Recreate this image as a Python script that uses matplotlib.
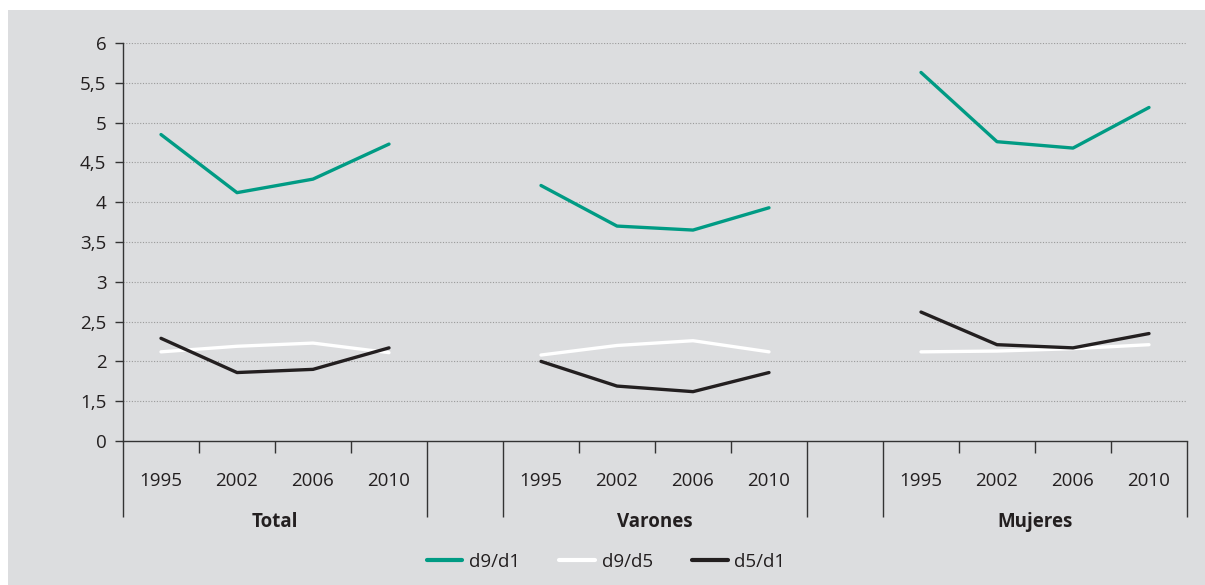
import matplotlib
matplotlib.use("Agg")
import matplotlib.pyplot as plt
from matplotlib.patches import Rectangle
from matplotlib.ticker import FixedLocator

plt.rcParams['font.family'] = ['Open Sans', 'DejaVu Sans']

# datos
grupos = ['Total', 'Varones', 'Mujeres']
anios = ['1995', '2002', '2006', '2010']
d9_d1 = [[4.85, 4.12, 4.29, 4.73], [4.21, 3.70, 3.65, 3.93], [5.63, 4.76, 4.68, 5.19]]
d9_d5 = [[2.12, 2.19, 2.23, 2.11], [2.08, 2.20, 2.26, 2.12], [2.12, 2.13, 2.16, 2.21]]
d5_d1 = [[2.29, 1.86, 1.90, 2.17], [2.00, 1.69, 1.62, 1.86], [2.62, 2.21, 2.17, 2.35]]
ytick_vals = [1.0, 1.5, 2, 2.5, 3, 3.5, 4, 4.5, 5, 5.5, 6]
ytick_labels = ['0', '1,5', '2', '2,5', '3', '3,5', '4', '4,5', '5', '5,5', '6']

verde = '#009b84'
negro = '#231f20'
fondo = '#dcdddf'
fs = 13.5

fig = plt.figure(figsize=(12.05, 5.85), dpi=100)
fig.patch.set_facecolor('white')
fig.add_artist(Rectangle((8 / 1205, 0), 1, 1 - 10 / 585, transform=fig.transFigure,
                         facecolor=fondo, edgecolor='none', zorder=-10))

ax = fig.add_axes([123 / 1205, 1 - 441 / 585, 1064 / 1205, 398 / 585])
ax.set_facecolor('none')

series = [(d9_d1, verde, 'd9/d1'), (d9_d5, 'white', 'd9/d5'), (d5_d1, negro, 'd5/d1')]
for datos, color, nombre in series:
    for g in range(3):
        xs = [g * 5 + i + 0.5 for i in range(4)]
        ax.plot(xs, datos[g], color=color, lw=2.4, solid_capstyle='round',
                label=nombre if g == 0 else None, zorder=3)

ax.set_xlim(0, 14)
ax.set_ylim(1.0, 6.0)

ax.set_yticks(ytick_vals)
ax.set_yticklabels(ytick_labels, fontsize=fs, color=negro)
ax.tick_params(axis='y', length=6, width=1, color='#333333', pad=6)
for y in ytick_vals[1:]:
    ax.axhline(y, color='#9a9a9a', lw=0.8, ls=(0, (1, 1.5)), zorder=1)

# ejes x: separadores largos y marcas cortas
ax.xaxis.set_major_locator(FixedLocator([0, 4, 5, 9, 10, 14]))
ax.xaxis.set_minor_locator(FixedLocator([1, 2, 3, 6, 7, 8, 11, 12, 13]))
ax.tick_params(axis='x', which='major', length=76 * 0.72, width=1, color='#333333',
               labelbottom=False)
ax.tick_params(axis='x', which='minor', length=12 * 0.72, width=1, color='#333333')

for g in range(3):
    for i, a in enumerate(anios):
        ax.text(g * 5 + i + 0.5, -40 / 398, a, ha='center', va='center', fontsize=fs,
                color=negro, transform=ax.get_xaxis_transform())
    ax.text(g * 5 + 2, -81 / 398, grupos[g], ha='center', va='center', fontsize=fs,
            fontweight='bold', color=negro, transform=ax.get_xaxis_transform())

for s in ['top', 'right']:
    ax.spines[s].set_visible(False)
for s in ['left', 'bottom']:
    ax.spines[s].set_color('#333333')
    ax.spines[s].set_linewidth(1)

leg = ax.legend(loc='center', bbox_to_anchor=(606 / 1205, 23 / 585),
                bbox_transform=fig.transFigure, ncol=3, frameon=False, fontsize=fs,
                handlelength=1.9, columnspacing=2.1, handletextpad=0.35)
for h in leg.get_lines():
    h.set_linewidth(3)
for t in leg.get_texts():
    t.set_color(negro)

fig.savefig('out.png', dpi=100)
